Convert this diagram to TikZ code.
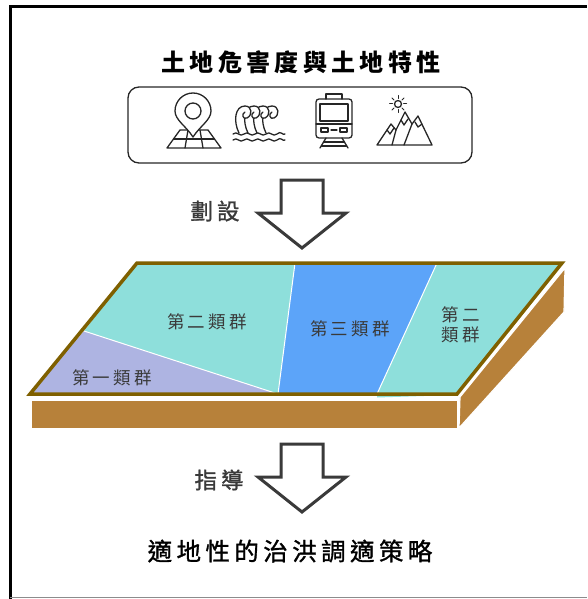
\documentclass[tikz,border=0pt]{standalone}
\usepackage{fontspec}
\usepackage{tikz}
\usetikzlibrary{positioning}
\newfontfamily\cjk{Noto Sans CJK TC}[LetterSpace=18]
\newfontfamily\cjkmid{Noto Sans CJK TC}[LetterSpace=18, FakeBold=1.2]
\definecolor{groupteal}{HTML}{8EDFDB}
\definecolor{groupblue}{HTML}{5CA4F9}
\definecolor{grouplilac}{HTML}{AEB4E2}
\definecolor{slabbrown}{HTML}{B7813A}
\definecolor{rimolive}{HTML}{7F6000}
\definecolor{inkgray}{HTML}{3A3A3A}

\begin{document}
\begin{tikzpicture}[x=1pt,y=-1pt,
    headline/.style={font=\cjk\bfseries\fontsize{24}{26}\selectfont, text=black},
    verb/.style={font=\cjkmid\fontsize{22.5}{24}\selectfont, text=inkgray},
    grouplabel/.style={font=\cjk\fontsize{17.5}{21}\selectfont, text=inkgray, align=center},
    arrowline/.style={draw=inkgray, line width=3pt, fill=white, line join=miter},
    icon/.style={draw=black!85, line width=1.3pt, line join=round, line cap=round},
    seam/.style={draw=white, line width=1pt}]
  \useasboundingbox (0,0) rectangle (587,599);
  \newcommand{\HollowArrow}[1]{%
    \draw[arrowline, shift={(#1)}] (-21,0) -- (21,0) -- (21,33) -- (44,33)
      -- (0,68) -- (-44,33) -- (-21,33) -- cycle;}
  % outer frame
  \draw[black, line width=3pt] (10,599) -- (10,7) -- (587,7);
  \draw[black!45, line width=1pt] (10,597.5) -- (587,597.5);

  % title and icon box
  \node[headline] (title) at (301,62) {土地危害度與土地特性};
  \draw[black!85, line width=1.3pt, rounded corners=11pt] (128,87) rectangle (472,163);

  % map pin
  \draw[icon] (180,130) -- (208,130) -- (221,148) -- (167,148) -- cycle;
  \draw[icon] (173.5,139) -- (214.5,139);
  \draw[icon] (188,130) -- (185,148) (200,130) -- (203,148);
  \draw[icon, fill=white] (193,137) .. controls (186,126) and (175,120) .. (175,111)
    arc[start angle=180, end angle=360, radius=18]
    .. controls (211,120) and (200,126) .. (193,137);
  \draw[icon] (193,111) circle[radius=8];

  % waves
  \foreach \wx in {266,257,248,239}{
    \draw[icon, fill=white] (\wx,133) .. controls (\wx-6,121) and (\wx-4,106) .. (\wx+6,106)
      .. controls (\wx+13,106) and (\wx+14,115) .. (\wx+8,118)
      .. controls (\wx+4,120) and (\wx+2,114) .. (\wx+6,112);}
  \draw[icon] (233,134) .. controls (237,130) and (240,138) .. (244,134)
    .. controls (248,130) and (251,138) .. (255,134)
    .. controls (259,130) and (262,138) .. (266,134)
    .. controls (270,130) and (273,138) .. (277,134)
    .. controls (281,130) and (283,136) .. (285,134);
  \draw[icon] (233,140) .. controls (237,136) and (240,144) .. (244,140)
    .. controls (248,136) and (251,144) .. (255,140)
    .. controls (259,136) and (262,144) .. (266,140)
    .. controls (270,136) and (273,144) .. (277,140)
    .. controls (281,136) and (283,142) .. (285,140);

  % train
  \draw[icon] (326,99) -- (326,94) -- (342,94) -- (342,99);
  \draw[icon, rounded corners=3pt] (316,99) rectangle (352,138);
  \draw[icon] (320,104) rectangle (348,121);
  \draw[icon] (316,124) -- (352,124);
  \draw[icon] (321,128) rectangle (328,132);
  \draw[icon] (340,128) rectangle (347,132);
  \draw[icon] (331,130) -- (337,130);
  \draw[icon] (326,138) -- (320,148) (342,138) -- (348,148);
  \draw[icon] (323.5,142) -- (344.5,142) (321.5,146) -- (346.5,146);

  % mountains and sun
  \draw[icon] (377,145) -- (391,124) -- (396,130) -- (405,112) -- (412,124)
    -- (418,116) -- (432,145) -- cycle;
  \draw[icon] (396,130) -- (392,145);
  \draw[icon] (412,124) -- (404,145);
  \draw[icon] (387,130) -- (390,134) -- (394,128);
  \draw[icon] (401,120) -- (404,125) -- (408,119);
  \draw[icon] (415,122) -- (418,127) -- (422,124);
  \draw[icon] (398,104) circle[radius=3.5];
  \foreach \ang in {0,45,...,315}
    \draw[icon, line width=1pt] (398,104) ++(\ang:5.5) -- ++(\ang:3);

  % first arrow
  \coordinate (arrowA) at (302,180);
  \HollowArrow{arrowA}
  \node[verb] (divide) at (215,211) {劃設};

  % slab under the zoning plate
  \fill[slabbrown] (32,401) rectangle (457,428);
  \filldraw[fill=slabbrown, draw=white, line width=1.2pt] (460,397) -- (565,268)
    -- (564,312) -- (459,428) -- cycle;

  % zoning plate
  \coordinate (TL) at (137,263);
  \coordinate (TR) at (562,263);
  \coordinate (BR) at (457,394);
  \coordinate (BL) at (30,394);
  \fill[groupteal] (TL) -- (295,263) -- (278,394) -- (84,331) -- cycle;% second group, left
  \fill[grouplilac] (84,331) -- (278,394) -- (BL) -- cycle;% first group
  \fill[groupblue] (295,263) -- (437,263) -- (377,394) -- (278,394) -- cycle;% third group
  \fill[groupteal] (437,263) -- (TR) -- (BR) -- (377,394) -- cycle;% second group, right
  \fill[groupteal] (377,394) -- (455,395) -- (377,397.5) -- cycle;
  \draw[seam] (84,331) -- (278,394) (295,263) -- (278,394) (437,263) -- (377,394);
  \draw[rimolive, line width=3.5pt, line join=miter] (TL) -- (TR) -- (BR) -- (BL) -- cycle;

  \node[grouplabel] (groupTwoA) at (207,322) {第二類群};
  \node[grouplabel] (groupThree) at (350,329) {第三類群};
  \node[grouplabel] (groupTwoB) at (461,325) {第二\\[-1pt]類群};
  \node[grouplabel] (groupOne) at (112,378) {第一類群};

  % second arrow
  \coordinate (arrowB) at (302,444);
  \HollowArrow{arrowB}
  \node[verb] (guide) at (219,480) {指導};

  \node[headline, font=\cjkmid\fontsize{24.5}{26}\selectfont] (strategy) at (290,551) {適地性的治洪調適策略};
\end{tikzpicture}
\end{document}
